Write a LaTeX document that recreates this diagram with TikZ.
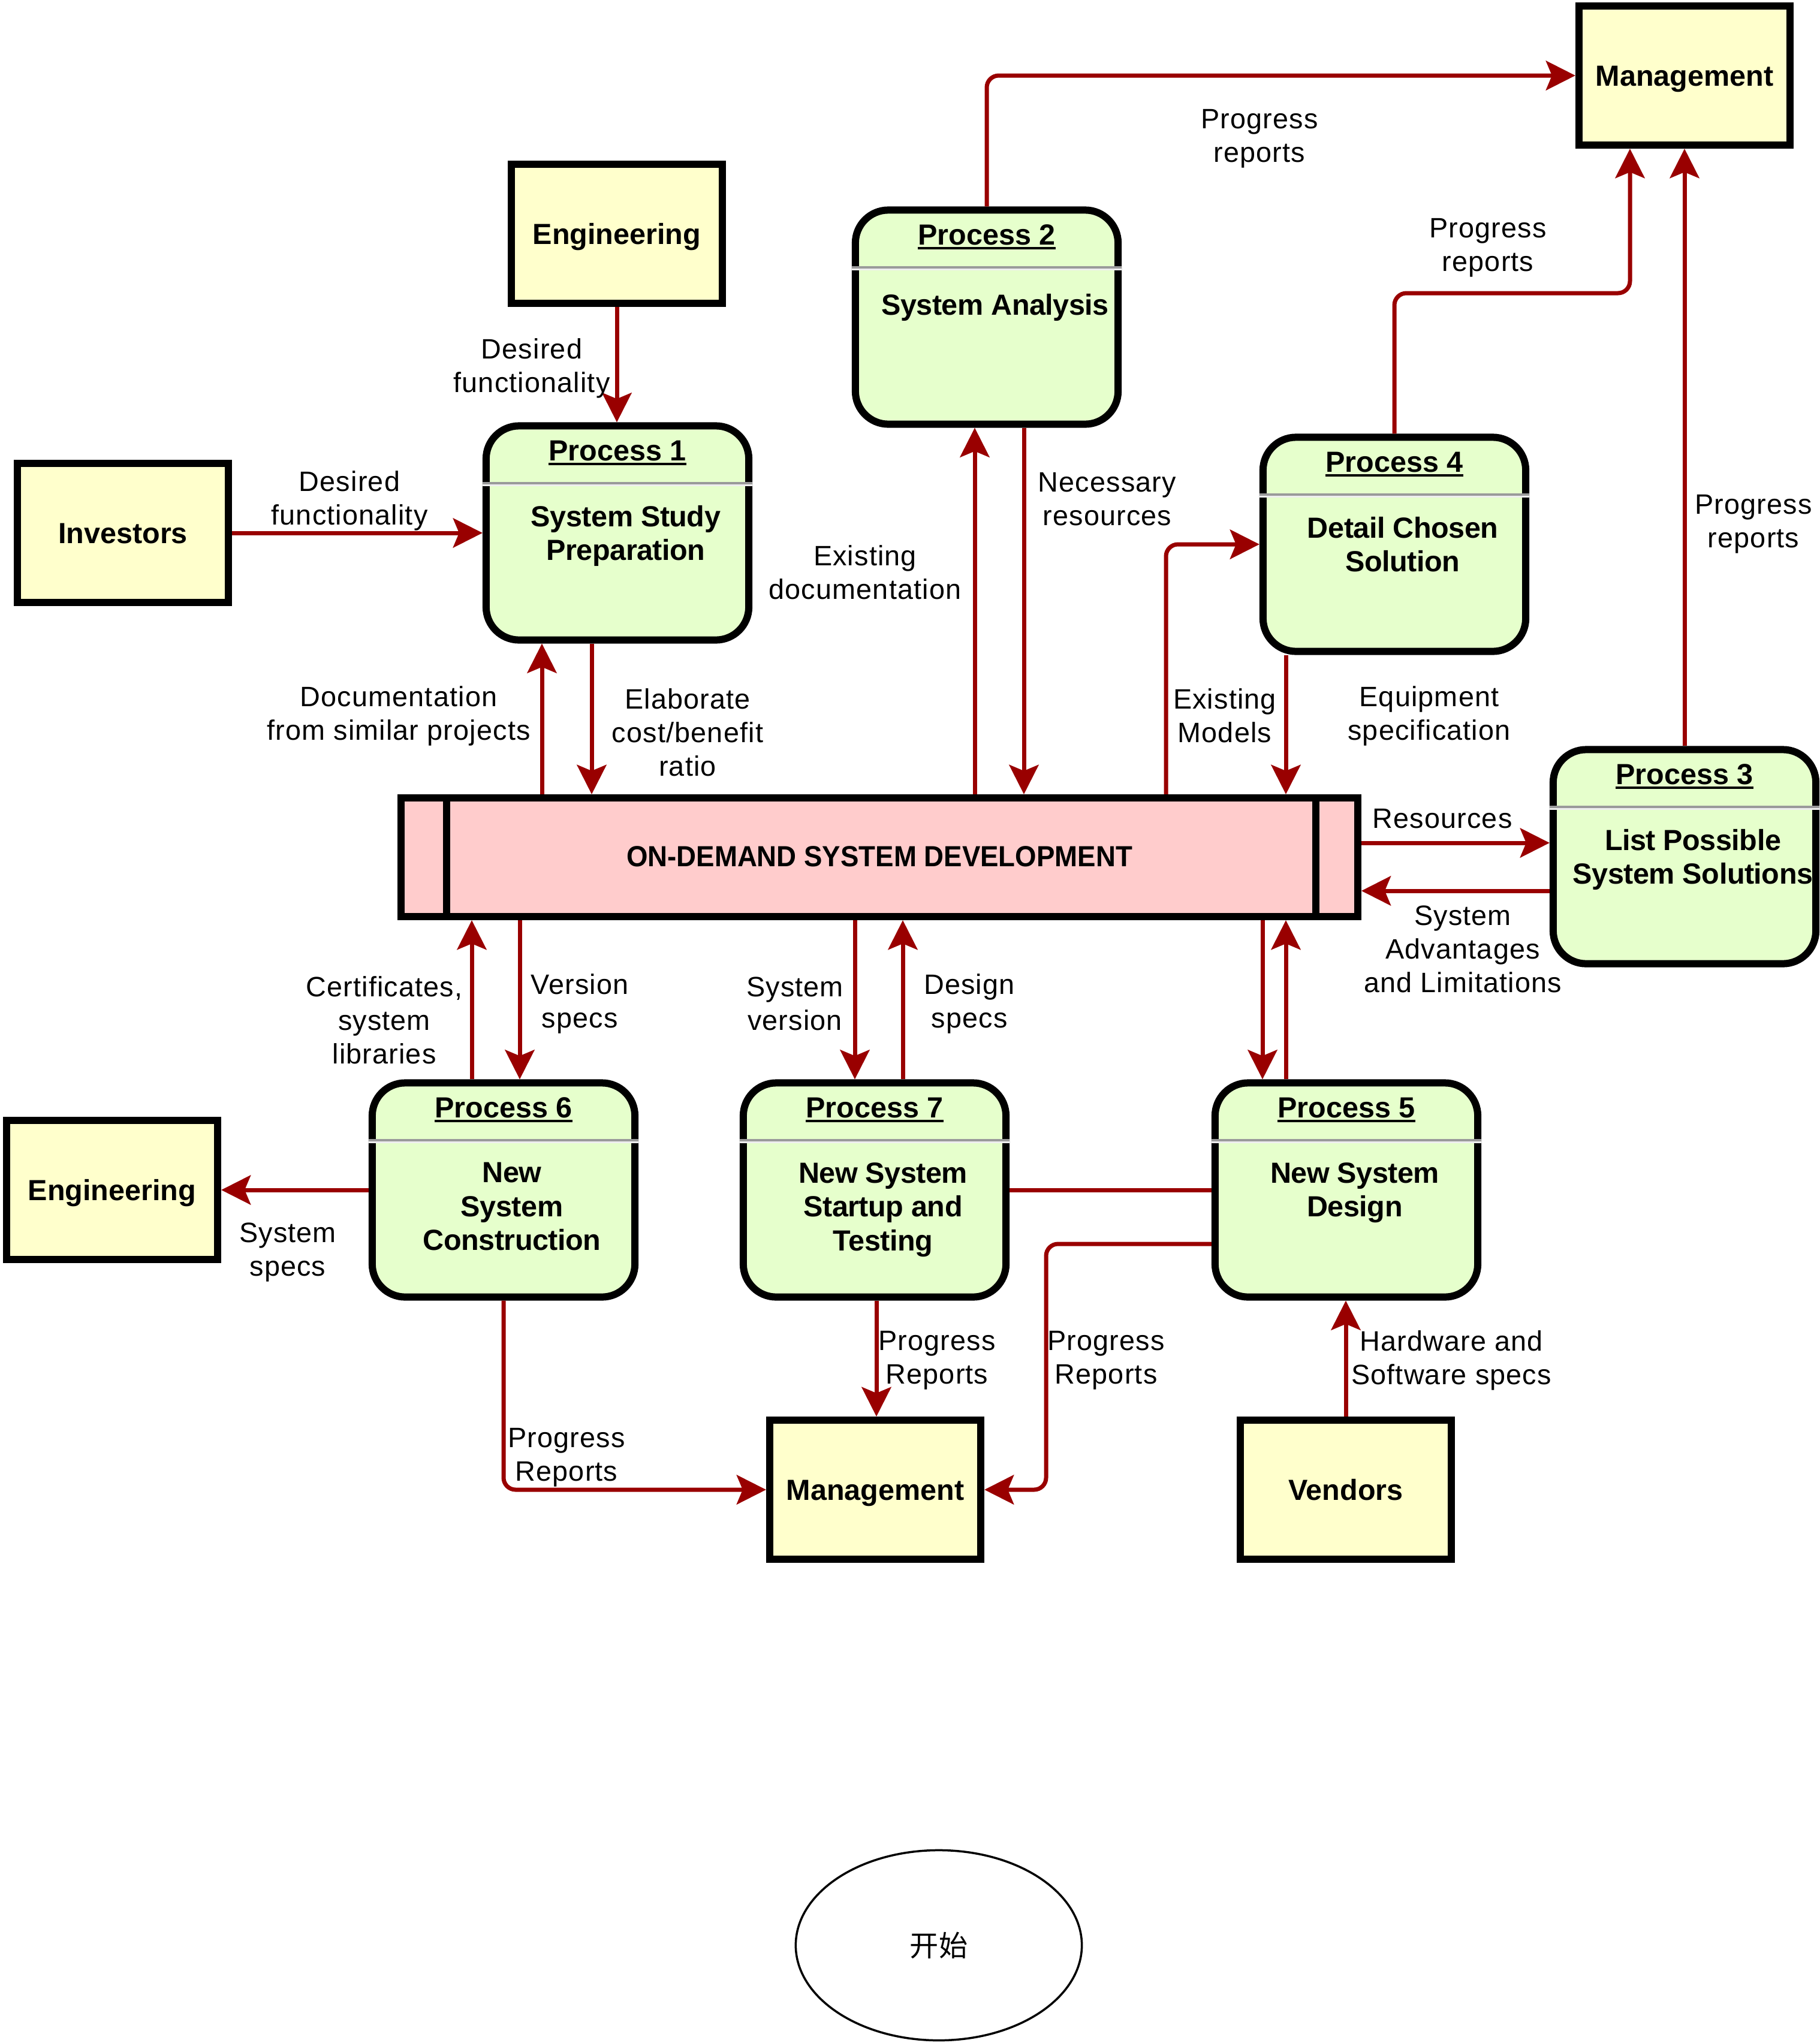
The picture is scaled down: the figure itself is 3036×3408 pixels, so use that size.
\documentclass[tikz,border=0pt]{standalone}
\usepackage{fontspec}
\usepackage{graphicx}
\setmainfont{Liberation Sans}
\newfontfamily\lblfam{Liberation Sans}[LetterSpace=2.5]
\newfontfamily\bodyfam{Liberation Sans}[LetterSpace=-1]
\newfontfamily\cjkfont{Noto Sans CJK SC}
\usetikzlibrary{arrows.meta,shapes.geometric,calc}

\definecolor{flowred}{HTML}{990000}
\definecolor{procfill}{HTML}{E6FFCC}
\definecolor{entfill}{HTML}{FFFFCC}
\definecolor{storefill}{HTML}{FFCCCC}
\definecolor{divdark}{HTML}{9A9A9A}
\definecolor{divlight}{HTML}{EEEEEE}

\newcommand\boldfont{\fontsize{13.8pt}{16.1pt}\selectfont\bfseries}
\newcommand\bodyfont{\bodyfam\fontsize{13.8pt}{16.1pt}\selectfont\bfseries}
\newcommand\lblfont{\lblfam\fontsize{13.3pt}{15.9pt}\selectfont}
% underlined process title with a slightly heavier rule
\newcommand\ultitle[1]{\setbox0\hbox{#1}\rlap{\raisebox{-2.14pt}{\rule{\wd0}{1pt}}}\box0}

% process box: name, x, y, title, body
\newcommand\procbox[5]{%
  \node[proc] (#1) at (#2,#3) {};
  \draw[line width=0.04cm,divdark] ([yshift=-1.02cm]#1.north west) -- ([yshift=-1.02cm]#1.north east);
  \draw[line width=0.03cm,divlight] ([yshift=-1.055cm]#1.north west) -- ([yshift=-1.055cm]#1.north east);
  \node[ptitle] (#1t) at ([yshift=-0.64cm]#1.north) {\ultitle{#4}};
  \node[pbody] (#1b) at ([xshift=0.14cm,yshift=-1.38cm]#1.north) {#5};
}

\begin{document}
\begin{tikzpicture}[x=0.01cm,y=-0.01cm,
  >={Stealth[length=0.49cm,width=0.49cm,inset=0.1cm]},
  proc/.style={draw=black,line width=0.12cm,fill=procfill,rounded corners=0.55cm,
    minimum width=4.38cm,minimum height=3.57cm,inner sep=0pt},
  ent/.style={draw=black,line width=0.12cm,fill=entfill,minimum width=3.52cm,
    minimum height=2.32cm,inner sep=0pt,font=\boldfont,text height=1em,text depth=0pt},
  ptitle/.style={anchor=base,inner sep=0pt,font=\boldfont},
  pbody/.style={anchor=north,inner sep=0pt,align=center,font=\bodyfont,
    execute at begin node={\rule{0pt}{12pt}}},
  lbl/.style={inner sep=0pt,align=center,font=\lblfont,yshift=-0.03cm},
  flow/.style={draw=flowred,line width=0.07cm,rounded corners=0.2cm}]

\useasboundingbox (0,0) rectangle (3036,3408);

% external entities
\node[ent] (mgt)  at (2810,126)  {Management};
\node[ent] (engt) at (1029,390)  {Engineering};
\node[ent] (inv)  at (205,889)   {Investors};
\node[ent] (engb) at (187,1985)  {Engineering};
\node[ent] (mgb)  at (1460,2485) {Management};
\node[ent] (ven)  at (2245,2485) {Vendors};

% processes
\procbox{p1}{1030}{889}{Process 1}{System Study\\Preparation}
\procbox{p2}{1646}{529}{Process 2}{System Analysis}
\procbox{p4}{2326}{908}{Process 4}{Detail Chosen\\Solution}
\procbox{p3}{2810}{1429}{Process 3}{List Possible\\System Solutions}
\procbox{p6}{840}{1985}{Process 6}{New\\System\\Construction}
\procbox{p7}{1459}{1985}{Process 7}{New System\\Startup and\\Testing}
\procbox{p5}{2246}{1985}{Process 5}{New System\\Design}

% data store
\node[draw=black,line width=0.12cm,fill=storefill,minimum width=15.95cm,minimum height=1.98cm,
  inner sep=0pt,font=\boldfont,text height=0.9em,text depth=0pt] (bar) at (1467,1430)
  {\scalebox{0.94}[1]{ON-DEMAND SYSTEM DEVELOPMENT}};
\draw[line width=0.12cm] (745,0 |- bar.north) -- (745,0 |- bar.south);
\draw[line width=0.12cm] (2195,0 |- bar.north) -- (2195,0 |- bar.south);

% start marker
\node[ellipse,draw=black,line width=0.035cm,minimum width=4.77cm,minimum height=3.17cm,
  inner sep=0pt,font=\cjkfont\fontsize{13.7pt}{16pt}\selectfont] (start) at (1566,3245) {开始};

% flows around process 1
\draw[flow,->] (engt.south) -- (engt.south |- p1.north);
\draw[flow,->] (inv.east) -- (inv.east -| p1.west);
\draw[flow,->] (904,0 |- bar.north) -- (904,0 |- p1.south);
\draw[flow,->] (987,0 |- p1.south) -- (987,0 |- bar.north);

% flows around process 2
\draw[flow,->] (1626,0 |- bar.north) -- (1626,0 |- p2.south);
\draw[flow,->] (1708,0 |- p2.south) -- (1708,0 |- bar.north);
\draw[flow,->] (p2.north) |- (mgt.west);

% flows around processes 4 and 3
\draw[flow,->] (p4.north) -- (p4.north |- 0,489) -| (2719,0 |- mgt.south);
\draw[flow,->] (p3.north) -- (p3.north |- mgt.south);
\draw[flow,->] (1945,0 |- bar.north) |- (p4.west);
\draw[flow,->] (2145,0 |- p4.south) -- (2145,0 |- bar.north);
\draw[flow,->] (bar.east |- 0,1406) -- (p3.west |- 0,1406);
\draw[flow,->] (p3.west |- 0,1486) -- (bar.east |- 0,1486);

% flows below the data store
\draw[flow,->] (787,0 |- p6.north) -- (787,0 |- bar.south);
\draw[flow,->] (867,0 |- bar.south) -- (867,0 |- p6.north);
\draw[flow,->] (1426,0 |- bar.south) -- (1426,0 |- p7.north);
\draw[flow,->] (1506,0 |- p7.north) -- (1506,0 |- bar.south);
\draw[flow,->] (2106,0 |- bar.south) -- (2106,0 |- p5.north);
\draw[flow,->] (2145,0 |- p5.north) -- (2145,0 |- bar.south);

% lower flows
\draw[flow,->] (p6.west) -- (p6.west -| engb.east);
\draw[flow] (p7.east) -- (p5.west);
\draw[flow,->] (1462,0 |- p7.south) -- (1462,0 |- mgb.north);
\draw[flow,->] (p5.west |- 0,2075) -| (1745,0 |- mgb.east) -- (mgb.east);
\draw[flow,->] (p6.south) |- (mgb.west);
\draw[flow,->] (ven.north) -- (ven.north |- p5.south);

% flow labels
\node[lbl] (l1)  at (887,611)   {Desired\\functionality};
\node[lbl] (l2)  at (583,832)   {Desired\\functionality};
\node[lbl] (l3)  at (665,1191)  {Documentation\\from similar projects};
\node[lbl] (l4)  at (1147,1219) {Elaborate\\cost/benefit\\ratio};
\node[lbl] (l5)  at (1443,952)  {Existing\\documentation};
\node[lbl] (l6)  at (1847,830)  {Necessary\\resources};
\node[lbl] (l7)  at (2101,228)  {Progress\\reports};
\node[lbl] (l8)  at (2482,410)  {Progress\\reports};
\node[lbl] (l9)  at (2925,871)  {Progress\\reports};
\node[lbl] (l10) at (2043,1191) {Existing\\Models};
\node[lbl] (l11) at (2384,1191) {Equipment\\specification};
\node[lbl] (l12) at (2406,1363) {Resources};
\node[lbl] (l13) at (2440,1580) {System\\Advantages\\and Limitations};
\node[lbl] (l14) at (641,1699)  {Certificates,\\system\\libraries};
\node[lbl] (l15) at (967,1671)  {Version\\specs};
\node[lbl] (l16) at (1326,1671) {System\\version};
\node[lbl] (l17) at (1617,1671) {Design\\specs};
\node[lbl] (l18) at (480,2086)  {System\\specs};
\node[lbl] (l19) at (1563,2266) {Progress\\Reports};
\node[lbl] (l20) at (1845,2266) {Progress\\Reports};
\node[lbl] (l21) at (945,2428)  {Progress\\Reports};
\node[lbl] (l22) at (2421,2266) {Hardware and\\Software specs};

\end{tikzpicture}
\end{document}
